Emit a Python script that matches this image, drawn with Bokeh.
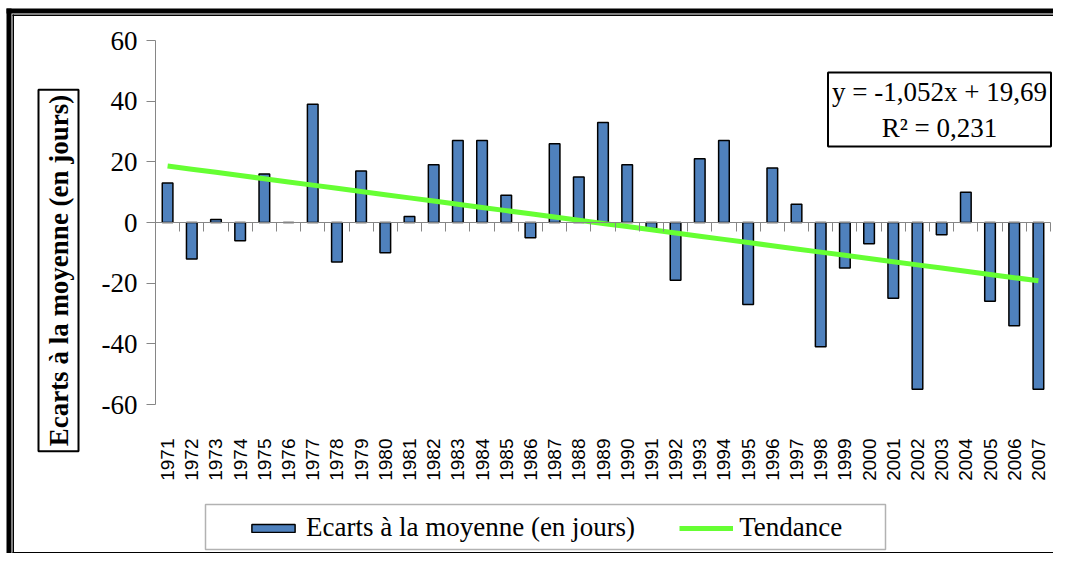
import math
from bokeh.plotting import figure
from bokeh.models import (Range1d, FixedTicker, LinearAxis, Label, Legend, LegendItem,
                          BoxAnnotation, ColumnDataSource)
from bokeh.embed import file_html
from bokeh.resources import INLINE

# ---- data ----
years = [1971, 1972, 1973, 1974, 1975, 1976, 1977, 1978, 1979, 1980,
         1981, 1982, 1983, 1984, 1985, 1986, 1987, 1988, 1989, 1990,
         1991, 1992, 1993, 1994, 1995, 1996, 1997, 1998, 1999, 2000,
         2001, 2002, 2003, 2004, 2005, 2006, 2007]
ecarts = [13, -12, 1, -6, 16, 0, 39, -13, 17, -10,
          2, 19, 27, 27, 9, -5, 26, 15, 33, 19,
          -2, -19, 21, 27, -27, 18, 6, -41, -15, -7,
          -25, -55, -4, 10, -26, -34, -55]
trend_slope = -1.052
trend_intercept = 19.69
r_squared = "0,231"
y_ticks = [-60, -40, -20, 0, 20, 40, 60]
series_label = "Ecarts à la moyenne (en jours)"
trend_label = "Tendance"
y_title = "Ecarts à la moyenne (en jours)"
equation_text = "y = -1,052x + 19,69\nR² = " + r_squared

idx = list(range(1, len(years) + 1))
trend = [trend_slope * i + trend_intercept for i in idx]
n = len(years)
y_lo, y_hi = y_ticks[0], y_ticks[-1]

# ---- layout (pixels) ----
W, H = 1053, 553
PL, PR, PT, PB = 155, 1050, 40, 404   # plot area edges in canvas pixels
xs = (PR - PL) / n                     # pixels per category
ys = (PB - PT) / (y_hi - y_lo)         # pixels per unit
x0 = 0.5 - PL / xs
x1 = n + 0.5 + (W - PR) / xs
y1 = y_hi + PT / ys
y0 = y_lo - (H - PB) / ys

p = figure(width=W, height=H, output_backend="svg", toolbar_location=None,
           x_range=Range1d(x0, x1), y_range=Range1d(y0, y1),
           min_border_left=0, min_border_right=0, min_border_top=0,
           min_border_bottom=0)
p.outline_line_color = None
p.grid.visible = False
p.background_fill_color = "white"
p.border_fill_color = "white"

# y axis
ya = p.yaxis[0]
ya.fixed_location = 0.5
ya.bounds = (y_lo, y_hi)
ya.ticker = FixedTicker(ticks=y_ticks)
ya.major_label_overrides = {t: str(t) for t in y_ticks}
ya.axis_line_color = "#868686"
ya.major_tick_line_color = "#868686"
ya.major_tick_in = 0
ya.major_tick_out = 9
ya.minor_tick_line_color = None
ya.major_label_standoff = 9
ya.major_label_text_font = "Liberation Serif"
ya.major_label_text_font_size = "27px"
ya.major_label_text_color = "black"

# x axis with year labels (below the plot area)
xa = p.xaxis[0]
xa.fixed_location = y_lo
xa.bounds = (0.5, n + 0.5)
xa.ticker = FixedTicker(ticks=idx)
xa.major_label_overrides = {i: str(y) for i, y in zip(idx, years)}
xa.major_label_orientation = math.pi / 2
xa.axis_line_color = None
xa.major_tick_line_color = None
xa.minor_tick_line_color = None
xa.major_label_standoff = 28
xa.major_label_text_font = "Liberation Sans"
xa.major_label_text_font_size = "19px"
xa.major_label_text_color = "black"

# zero line axis with category-boundary ticks
bounds = [i + 0.5 for i in range(0, n + 1)]
za = LinearAxis(fixed_location=0, ticker=FixedTicker(ticks=bounds), bounds=(0.5, n + 0.5))
za.major_label_overrides = {b: "" for b in bounds}
za.axis_line_color = "#868686"
za.major_tick_line_color = "#868686"
za.major_tick_in = 0
za.major_tick_out = 9
za.minor_tick_line_color = None
p.add_layout(za, "below")

src = ColumnDataSource(dict(x=idx, top=ecarts))
bars = p.vbar(x="x", top="top", bottom=0, width=0.44, source=src,
              fill_color="#4F81BD", line_color="black", line_width=1.5)
tl = p.line(x=idx, y=trend, line_color="#66FF33", line_width=5)

legend = Legend(items=[LegendItem(label=series_label, renderers=[bars]),
                       LegendItem(label=trend_label, renderers=[tl])],
                orientation="horizontal", location=(246, 10),
                padding=5, margin=0, spacing=44, label_standoff=6,
                glyph_width=54, glyph_height=10,
                label_text_font="Liberation Serif", label_text_font_size="27px",
                label_text_color="black",
                border_line_color=None, background_fill_alpha=0)
p.add_layout(legend, "center")

def sbox(left, right, top, bottom, **kw):
    b = BoxAnnotation(left=left, right=right, top=top, bottom=bottom,
                      left_units="screen", right_units="screen",
                      top_units="screen", bottom_units="screen", **kw)
    p.add_layout(b)

# legend frame
sbox(205, 885, 49, 4, fill_alpha=0, line_color="black", line_width=1.5)

# y title boxed
p.add_layout(Label(x=58, y=283, x_units="screen", y_units="screen", text=y_title,
                   angle=math.pi / 2, text_align="center", text_baseline="middle",
                   text_font="Liberation Serif", text_font_style="bold",
                   text_font_size="27px", text_color="black",
                   border_line_color="black", border_line_width=2,
                   background_fill_color="white", padding=5))

# equation box
p.add_layout(Label(x=939, y=444, x_units="screen", y_units="screen", text=equation_text,
                   text_align="center", text_baseline="middle",
                   text_font="Liberation Serif", text_font_size="27px",
                   text_color="black",
                   border_line_color="black", border_line_width=2,
                   background_fill_color="white", padding=4))

# outer double frame
blk = dict(fill_color="black", fill_alpha=1, line_color=None)
sbox(6, W, H - 8, H - 13, **blk)
sbox(6, 11, H - 8, 0, **blk)
sbox(12, W, H - 14, H - 15.5, **blk)
sbox(12, 13.5, H - 14, 0, **blk)
sbox(12, W, 1.5, 0, **blk)

open("out.html", "w").write(file_html(p, INLINE))
